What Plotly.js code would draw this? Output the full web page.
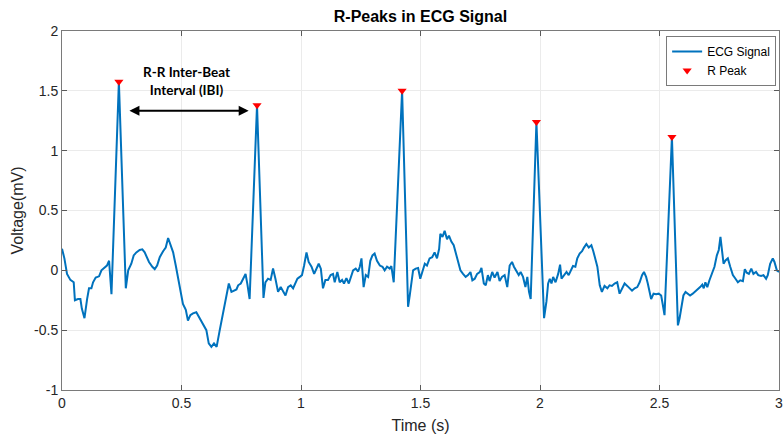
<!DOCTYPE html>
<html>
<head>
<meta charset="utf-8">
<script src="https://cdn.plot.ly/plotly-3.0.1.min.js"></script>
<style>html,body{margin:0;padding:0;background:#fff;}#chart{width:783px;height:440px;}</style>
</head>
<body>
<div id="chart"></div>
<script>
// ECG signal samples (seconds, millivolts)
const timeS = [
0.0,0.01,0.021,0.035,0.049,0.054,0.067,0.077,0.083,0.094,0.105,0.113,0.123,0.130,0.141,0.155,0.165,0.179,0.188,0.197,
0.207,0.238,0.267,0.277,0.29,0.300,0.311,0.325,0.336,0.346,0.356,0.364,0.378,0.388,0.398,0.409,0.423,0.434,0.444,0.454,
0.465,0.476,0.486,0.495,0.506,0.518,0.527,0.537,0.548,0.562,0.573,0.583,0.593,0.604,0.614,0.625,0.636,0.647,0.66,0.670,
0.678,0.688,0.698,0.709,0.72,0.73,0.737,0.748,0.758,0.768,0.776,0.785,0.816,0.843,0.851,0.862,0.873,0.883,0.893,0.904,
0.915,0.925,0.935,0.946,0.957,0.967,0.977,0.985,0.995,1.004,1.013,1.023,1.032,1.044,1.055,1.065,1.074,1.083,1.092,1.102,
1.113,1.124,1.134,1.141,1.152,1.162,1.172,1.18,1.19,1.2,1.211,1.218,1.229,1.239,1.246,1.253,1.262,1.271,1.281,1.290,
1.299,1.308,1.318,1.33,1.341,1.350,1.360,1.371,1.378,1.388,1.423,1.448,1.455,1.462,1.469,1.48,1.49,1.499,1.508,1.518,
1.527,1.538,1.549,1.559,1.569,1.578,1.583,1.592,1.601,1.611,1.619,1.629,1.639,1.648,1.657,1.667,1.678,1.689,1.699,1.709,
1.717,1.727,1.737,1.748,1.755,1.765,1.773,1.782,1.789,1.8,1.81,1.822,1.831,1.841,1.852,1.863,1.873,1.883,1.891,1.901,
1.911,1.919,1.929,1.939,1.947,1.954,1.961,1.985,2.017,2.027,2.034,2.041,2.048,2.055,2.065,2.076,2.084,2.09,2.101,2.111,
2.120,2.13,2.138,2.148,2.156,2.166,2.176,2.184,2.194,2.204,2.215,2.223,2.232,2.240,2.25,2.259,2.27,2.282,2.291,2.301,
2.312,2.323,2.333,2.343,2.354,2.365,2.375,2.385,2.396,2.407,2.417,2.427,2.435,2.444,2.451,2.458,2.465,2.475,2.486,2.497,
2.507,2.514,2.521,2.552,2.577,2.584,2.591,2.6,2.609,2.619,2.628,2.639,2.651,2.66,2.67,2.679,2.685,2.692,2.7,2.709,
2.72,2.73,2.74,2.748,2.755,2.762,2.768,2.776,2.786,2.796,2.807,2.818,2.828,2.838,2.849,2.857,2.865,2.874,2.884,2.893,
2.904,2.913,2.925,2.935,2.946,2.953,2.963,2.974,2.981,2.991,3.0
];
const voltageMV = [
0.18,0.10,-0.03,-0.08,-0.10,-0.25,-0.24,-0.24,-0.32,-0.40,-0.24,-0.15,-0.15,-0.10,-0.06,-0.05,0.0,0.02,0.04,0.08,
-0.20,1.575,-0.15,0.0,0.055,0.125,0.15,0.17,0.175,0.15,0.11,0.07,0.03,0.01,0.04,0.11,0.16,0.19,0.27,0.22,
0.15,0.04,-0.07,-0.18,-0.28,-0.33,-0.42,-0.375,-0.36,-0.35,-0.39,-0.43,-0.47,-0.50,-0.61,-0.64,-0.61,-0.64,-0.50,-0.40,
-0.29,-0.195,-0.11,-0.18,-0.17,-0.16,-0.125,-0.11,-0.07,-0.03,-0.12,-0.24,1.38,-0.23,-0.10,-0.07,-0.08,0.015,-0.07,-0.18,
-0.14,-0.17,-0.21,-0.14,-0.125,-0.15,-0.11,-0.07,-0.055,-0.04,0.04,0.15,0.07,0.03,-0.03,0.014,0.055,0.014,-0.15,-0.08,
-0.08,-0.04,-0.03,-0.10,-0.014,-0.10,-0.08,-0.11,-0.065,-0.11,-0.04,0.0,0.014,-0.01,0.03,0.1,-0.14,-0.04,-0.055,0.08,
0.125,0.14,0.08,0.04,0.03,0.0,0.03,0.014,0.036,-0.10,1.50,-0.305,-0.21,-0.11,0.0,0.014,0.02,-0.07,0.0,0.055,
0.04,0.1,0.11,0.15,0.1,0.18,0.305,0.28,0.33,0.26,0.29,0.24,0.21,0.14,0.07,0.0,-0.03,-0.055,-0.04,-0.014,
-0.083,-0.07,-0.03,-0.014,0.02,-0.11,-0.125,-0.04,-0.09,-0.014,-0.06,-0.014,-0.09,-0.055,-0.04,-0.14,0.04,0.07,0.03,0.0,
-0.04,-0.014,-0.055,-0.14,-0.055,-0.18,-0.24,1.24,-0.40,-0.26,-0.11,-0.07,-0.11,-0.055,-0.10,-0.03,0.047,-0.07,-0.04,-0.014,
-0.04,0.0,0.036,0.03,0.10,0.14,0.16,0.19,0.22,0.19,0.21,0.16,0.08,0.03,-0.125,-0.18,-0.13,-0.15,-0.125,-0.13,
-0.11,-0.10,-0.195,-0.15,-0.11,-0.13,-0.15,-0.17,-0.15,-0.14,-0.10,-0.04,-0.014,-0.055,-0.11,-0.17,-0.24,-0.195,-0.20,-0.195,
-0.21,-0.29,-0.375,1.115,-0.46,-0.40,-0.305,-0.21,-0.18,-0.195,-0.21,-0.195,-0.175,-0.16,-0.14,-0.12,-0.15,-0.10,-0.14,-0.083,
-0.03,0.03,0.125,0.17,0.28,0.18,0.055,0.083,0.10,0.03,-0.04,-0.07,-0.10,-0.083,-0.09,0.01,-0.02,-0.03,0.014,-0.03,
-0.014,-0.04,-0.047,-0.04,-0.07,-0.04,0.055,0.10,0.07,0.0,-0.014
];
// Detected R peaks
const peakTimeS = [0.238, 0.816, 1.423, 1.985, 2.552];
const peakVoltageMV = [1.575, 1.38, 1.50, 1.24, 1.115];
// Axis ticks
const xTickVals = [0, 0.5, 1, 1.5, 2, 2.5, 3];
const xTickText = ['0', '0.5', '1', '1.5', '2', '2.5', '3'];
const yTickVals = [-1, -0.5, 0, 0.5, 1, 1.5, 2];
const yTickText = ['-1', '-0.5', '0', '0.5', '1', '1.5', '2'];
// IBI annotation (between first two peaks)
const ibiLabel = 'R-R Inter-Beat<br>Interval (IBI)';
const ibiStart = 0.276, ibiEnd = 0.781, ibiLevel = 1.333;

const fam = 'Liberation Sans Narrow, Arial Narrow, Liberation Sans, Arial, sans-serif';
const tickFont = {family: fam, size: 14, color: '#262626'};

const traces = [
  {x: timeS, y: voltageMV, type: 'scatter', mode: 'lines', name: 'ECG Signal',
   line: {color: '#0072BD', width: 2}},
  {x: peakTimeS, y: peakVoltageMV, type: 'scatter', mode: 'markers', name: 'R Peak',
   marker: {symbol: 'triangle-down', color: '#FF0000', size: 8}}
];

const axisCommon = {
  showline: true, linecolor: '#7a7a7a', linewidth: 1, mirror: 'ticks',
  ticks: 'inside', ticklen: 5, tickcolor: '#5a5a5a',
  showgrid: true, gridcolor: '#ebebeb', gridwidth: 1, zeroline: false,
  tickfont: tickFont, ticklabeloverflow: 'allow'
};

const layout = {
  width: 783, height: 440,
  margin: {l: 62, r: 4, t: 31, b: 50},
  paper_bgcolor: '#ffffff', plot_bgcolor: '#ffffff',
  title: {text: '<b>R-Peaks in ECG Signal</b>', x: 0.537, xanchor: 'center', y: 0.962, yanchor: 'middle',
          font: {family: fam, size: 16, color: '#000'}},
  xaxis: Object.assign({}, axisCommon, {range: [0, 3], tickvals: xTickVals, ticktext: xTickText,
          title: {text: 'Time (s)', font: {family: fam, size: 16, color: '#262626'}, standoff: 10}}),
  yaxis: Object.assign({}, axisCommon, {range: [-1, 2], tickvals: yTickVals, ticktext: yTickText,
          title: {text: 'Voltage(mV)', font: {family: fam, size: 16, color: '#262626'}, standoff: 6}}),
  showlegend: true,
  legend: {x: 0.996, xanchor: 'right', y: 0.986, yanchor: 'top', bgcolor: '#ffffff',
           bordercolor: '#7a7a7a', borderwidth: 1, itemwidth: 30, tracegroupgap: 0,
           font: {family: fam, size: 12, color: '#000'}},
  annotations: [
    {x: ibiEnd, y: ibiLevel, ax: ibiStart, ay: ibiLevel, xref: 'x', yref: 'y', axref: 'x', ayref: 'y',
     text: '', showarrow: true, arrowhead: 2, arrowside: 'end+start', arrowsize: 1, arrowwidth: 2, arrowcolor: '#000'},
    {x: 0.52, y: 1.58, xref: 'x', yref: 'y', text: '<b>' + ibiLabel + '</b>', showarrow: false,
     align: 'center', font: {family: 'Lato, Open Sans, sans-serif', size: 13.5, color: '#000'}}
  ]
};

Plotly.newPlot('chart', traces, layout, {displayModeBar: false, staticPlot: true});
</script>
</body>
</html>
